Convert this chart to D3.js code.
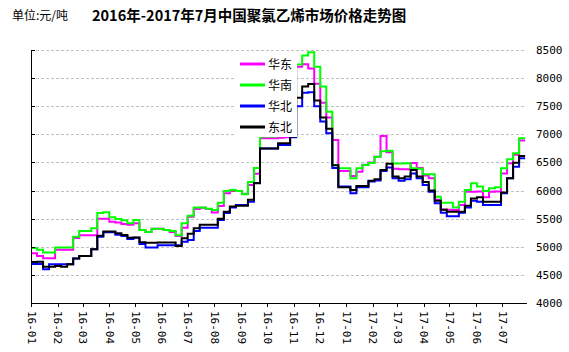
<!DOCTYPE html>
<html>
<head>
<meta charset="utf-8">
<script src="https://cdn.jsdelivr.net/npm/d3@7"></script>
<style>
body { margin:0; background:#fff; }
svg { display:block; }
.axis text { font-family:"DejaVu Sans Mono", monospace; font-size:11px; fill:#000; }
</style>
</head>
<body>
<div id="the_chart"></div>
<script>
// weekly prices, yuan/ton, from 2016-01-01
var start_day = new Date(2016, 0, 1);
var n_weeks = 83;
var series_names = ["华东", "华南", "华北", "东北"];
var series_colors = ["#ff00ff", "#00ff00", "#0000ff", "#000000"];

var huadong = [4885,4835,4795,4795,4945,4945,4945,5155,5205,5205,
    5205,5500,5500,5445,5430,5405,5390,5420,5300,5265,
    5320,5320,5300,5265,5190,5340,5535,5670,5695,5670,
    5610,5725,5950,5990,5990,5945,6100,6300,6930,6930,
    6930,6940,6950,7000,8200,8245,8170,7900,7560,7300,
    6900,6350,6350,6260,6335,6460,6500,6600,6970,6680,
    6390,6380,6380,6490,6400,6270,6220,5835,5665,5660,
    5655,5745,5980,5980,5985,5880,5980,5985,6305,6485,
    6635,6890,6890];
var huanan = [4980,4945,4900,4900,4985,4985,4985,5180,5280,5280,
    5330,5600,5615,5525,5495,5470,5420,5475,5300,5265,
    5320,5320,5300,5280,5205,5420,5550,5700,5700,5675,
    5655,5785,5990,6010,5990,5935,6150,6400,6960,6960,
    6960,6980,6990,7050,8240,8400,8460,8200,7850,7400,
    6450,6395,6395,6220,6395,6455,6490,6600,6700,6710,
    6480,6480,6485,6395,6390,6290,6290,5890,5785,5785,
    5700,5800,6010,6130,6070,5990,6040,6060,6395,6555,
    6665,6930,6930];
var huabei = [4695,4695,4600,4690,4690,4690,4690,4790,4835,4835,
    4955,5180,5260,5260,5215,5190,5140,5160,5050,4985,
    4985,5025,5025,5025,5025,5090,5120,5280,5340,5340,
    5340,5475,5600,5700,5745,5745,5800,6135,6750,6750,
    6750,6810,6810,6950,7500,7740,7750,7500,7230,7020,
    6400,6070,6070,5950,6060,6060,6160,6180,6350,6410,
    6220,6175,6200,6305,6220,6100,5980,5775,5605,5545,
    5545,5605,5700,5820,5800,5745,5745,5745,5950,6220,
    6425,6575,6575];
var dongbei = [4730,4735,4645,4645,4660,4645,4690,4790,4835,4835,
    4955,5195,5270,5270,5240,5210,5160,5165,5080,5070,
    5070,5075,5075,5075,5015,5150,5230,5330,5390,5390,
    5390,5500,5625,5715,5730,5730,5835,6130,6750,6750,
    6750,6840,6840,6960,7650,7850,7895,7600,7300,7100,
    6450,6060,6060,6010,6080,6080,6175,6200,6365,6475,
    6250,6220,6250,6365,6250,6150,6000,5820,5660,5625,
    5625,5625,5730,5860,5880,5800,5800,5800,5965,6220,
    6495,6615,6615];
var y_ticks = [4000,4500,5000,5500,6000,6500,7000,7500,8000,8500];

var dates = d3.range(n_weeks).map(function(i) { return d3.timeDay.offset(start_day, 7 * i); });
var all_series = [huadong, huanan, huabei, dongbei];

var w = 569, h = 352;
var x0 = 31, x1 = 526, y_top = 50, y_bot = 303;

var svg = d3.select("#the_chart").append("svg")
    .attr("width", w)
    .attr("height", h);

var xscale = d3.scaleTime()
    .domain([start_day, new Date(2017, 6, 29)])
    .range([x0, x1]);
var yscale = d3.scaleLinear()
    .domain([4000, 8500])
    .range([y_bot, y_top]);

// titles
svg.append("text")
    .attr("x", 12).attr("y", 20)
    .style("font-family", "'Noto Sans CJK SC'")
    .style("font-size", "12px")
    .text("单位:元/吨");
svg.append("text")
    .attr("x", 92).attr("y", 21)
    .style("font-family", "'Noto Sans CJK SC'")
    .style("font-size", "14.5px")
    .style("font-weight", "bold")
    .text("2016年-2017年7月中国聚氯乙烯市场价格走势图");

// grid
svg.append("g").selectAll("line")
    .data(y_ticks.slice(1))
    .enter().append("line")
    .attr("x1", x0).attr("x2", x1)
    .attr("y1", function(d) { return Math.round(yscale(d)) + 0.5; })
    .attr("y2", function(d) { return Math.round(yscale(d)) + 0.5; })
    .attr("stroke", "#c0c0c0")
    .attr("stroke-dasharray", "3,2");

// lines
var line = d3.line()
    .curve(d3.curveStepAfter)
    .x(function(d, i) { return xscale(dates[i]); })
    .y(function(d) { return yscale(d); });
svg.append("g").selectAll("path")
    .data(all_series)
    .enter().append("path")
    .attr("d", line)
    .attr("fill", "none")
    .attr("stroke", function(d, i) { return series_colors[i]; })
    .attr("stroke-width", 2);

// axes
var xaxis = d3.axisBottom(xscale)
    .tickValues(d3.timeMonth.range(start_day, new Date(2017, 6, 2)))
    .tickFormat(d3.timeFormat("%y-%m"))
    .tickSizeInner(4)
    .tickSizeOuter(0);
var gx = svg.append("g")
    .attr("class", "axis")
    .attr("transform", "translate(0," + y_bot + ")")
    .call(xaxis);
gx.selectAll("text")
    .attr("transform", "rotate(90)")
    .attr("x", 8)
    .attr("y", 0)
    .attr("dy", "0.35em")
    .style("text-anchor", "start");

var yaxis = d3.axisLeft(yscale)
    .tickValues(y_ticks)
    .tickFormat("")
    .tickSizeInner(-4)
    .tickSizeOuter(0);
svg.append("g")
    .attr("class", "axis")
    .attr("transform", "translate(" + x0 + ",0)")
    .call(yaxis);

var yaxis_r = d3.axisRight(yscale)
    .tickValues(y_ticks)
    .tickFormat(d3.format("d"))
    .tickSize(0)
    .tickPadding(10);
var gr = svg.append("g")
    .attr("class", "axis")
    .attr("transform", "translate(" + x1 + ",0)")
    .call(yaxis_r);
gr.select(".domain").remove();

svg.selectAll(".axis path, .axis line").attr("shape-rendering", "crispEdges");

// legend
var lg = svg.append("g");
lg.append("rect")
    .attr("x", 235).attr("y", 52)
    .attr("width", 62).attr("height", 85)
    .attr("fill", "#fff");
var items = lg.selectAll("g")
    .data(series_names)
    .enter().append("g")
    .attr("transform", function(d, i) { return "translate(240," + (64 + i * 21) + ")"; });
items.append("line")
    .attr("x1", 0).attr("x2", 25)
    .attr("stroke", function(d, i) { return series_colors[i]; })
    .attr("stroke-width", 3);
items.append("text")
    .attr("x", 28)
    .attr("dy", "0.38em")
    .style("font-family", "'Noto Sans CJK SC'")
    .style("font-size", "12px")
    .text(function(d) { return d; });
</script>
</body>
</html>
